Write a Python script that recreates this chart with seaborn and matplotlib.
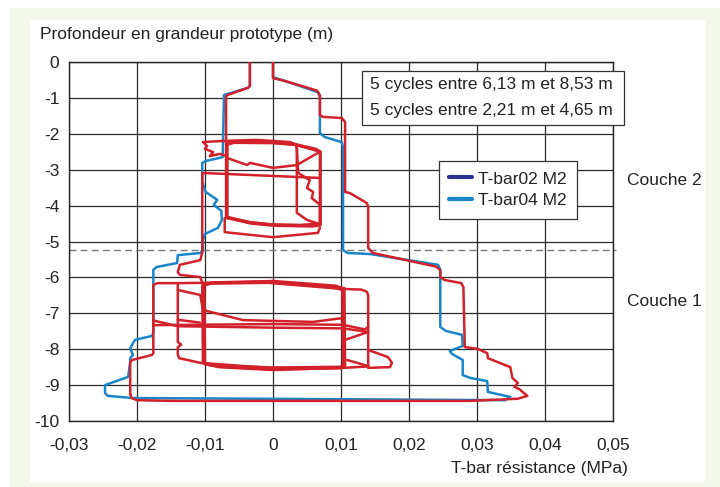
import matplotlib
matplotlib.use("Agg")
import matplotlib.pyplot as plt
from matplotlib.lines import Line2D
from matplotlib.patches import Rectangle
import pandas as pd
import seaborn as sns

sns.set_theme(style="white")
plt.rcParams["font.family"] = ["Liberation Sans", "DejaVu Sans"]

RED = "#d2212b"
BLUE = "#1a86c8"
NAVY = "#2e3192"
INK = "#222222"
FS = 12.5

# ---- axes ----
x_ticks = [-0.03, -0.02, -0.01, 0.0, 0.01, 0.02, 0.03, 0.04, 0.05]
x_tick_labels = ["-0,03", "-0,02", "-0,01", "0", "0,01", "0,02", "0,03", "0,04", "0,05"]
y_ticks = [0, -1, -2, -3, -4, -5, -6, -7, -8, -9, -10]
y_tick_labels = ["0", "-1", "-2", "-3", "-4", "-5", "-6", "-7", "-8", "-9", "-10"]

layer_boundary = -5.24
layer_names = ["Couche 2", "Couche 1"]
layer_label_depths = [-3.29, -6.66]
cycle_notes = ["5 cycles entre 6,13 m et 8,53 m", "5 cycles entre 2,21 m et 4,65 m"]
legend_labels = ["T-bar02 M2", "T-bar04 M2"]

# ---- T-bar04 M2 : penetration then extraction ----
blue_pen_x = [0.0, 0.0, 0.0035, 0.0066, 0.0069, 0.0069, 0.0076, 0.0101, 0.0103, 0.0103,
              0.0110, 0.0143, 0.0243, 0.0246, 0.0246, 0.0254, 0.0278, 0.0279, 0.0260, 0.0263,
              0.0279, 0.0279, 0.0290, 0.0315, 0.0316, 0.0349, 0.0341]
blue_pen_y = [0.0, -0.42, -0.64, -0.84, -0.97, -1.98, -2.09, -2.23, -2.37, -5.24,
              -5.32, -5.35, -5.65, -5.79, -7.38, -7.49, -7.60, -7.91, -8.05, -8.13,
              -8.30, -8.72, -8.80, -8.89, -9.19, -9.33, -9.42]
blue_ext_x = [0.0341, -0.0206, -0.0243, -0.0247, -0.0247, -0.0213, -0.0210, -0.0210, -0.0206,
              -0.0210, -0.0203, -0.0178, -0.0176, -0.0176, -0.0171, -0.0141, -0.0140, -0.0107,
              -0.0103, -0.0103, -0.0100, -0.0081, -0.0075, -0.0076, -0.0087, -0.0082, -0.0099,
              -0.0104, -0.0104, -0.0099, -0.0074, -0.0072, -0.0037, -0.0034, -0.0034]
blue_ext_y = [-9.42, -9.36, -9.30, -9.22, -9.00, -8.77, -8.36, -8.25, -8.16,
              -7.97, -7.74, -7.63, -7.55, -5.79, -5.71, -5.60, -5.38, -5.32,
              -5.24, -4.96, -4.79, -4.62, -4.40, -4.15, -3.98, -3.84, -3.62,
              -3.34, -2.81, -2.76, -2.65, -0.92, -0.72, -0.67, 0.0]

# ---- red trace : penetration down to 9.4 m ----
red_pen_x = [0.0, 0.0, 0.0018, 0.0041, 0.0065, 0.0069, 0.0069, 0.0074, 0.0101, 0.0106,
             0.0106, 0.0113, 0.0138, 0.0140, 0.0140, 0.0147, 0.0240, 0.0246, 0.0246, 0.0252,
             0.0277, 0.0280, 0.0282, 0.0301, 0.0315, 0.0316, 0.0349, 0.0352, 0.0360, 0.0355,
             0.0362, 0.0367, 0.0374, 0.0360, 0.0290, -0.0150, -0.0200, -0.0208, -0.0210]
red_pen_y = [0.0, -0.45, -0.53, -0.66, -0.80, -0.93, -1.48, -1.53, -1.56, -1.67,
             -3.62, -3.65, -3.93, -4.04, -5.18, -5.32, -5.70, -5.80, -5.99, -6.07,
             -6.16, -6.27, -7.94, -7.99, -8.11, -8.25, -8.50, -8.80, -8.94, -9.05,
             -9.11, -9.19, -9.30, -9.38, -9.44, -9.44, -9.42, -9.36, -9.25]

# extraction from the bottom up to the lower cycling zone
red_ext_low_x = [-0.0210, -0.0210, -0.0207, -0.0178, -0.0176, -0.0176, -0.0170, -0.0140]
red_ext_low_y = [-9.25, -8.36, -8.30, -8.16, -8.11, -6.21, -6.16, -6.16]

# cycles between 6,13 m and 8,53 m
low_first_x = [-0.0140, -0.0019, 0.0101, 0.0130, 0.0138, 0.0140, 0.0140, 0.0103, 0.0000,
               -0.0107, -0.0138, -0.0140, -0.0140, -0.0135, -0.0140, -0.0140]
low_first_y = [-6.16, -6.13, -6.32, -6.34, -6.40, -6.50, -8.48, -8.52, -8.53,
               -8.38, -8.25, -8.15, -7.95, -7.87, -7.80, -6.16]
low_cycles_x = [
    [-0.0103, -0.0090, 0.0000, 0.0090, 0.0103, 0.0104, 0.0100, 0.0000, -0.0080, -0.0102, -0.0103],
    [-0.0101, -0.0088, 0.0000, 0.0092, 0.0104, 0.0105, 0.0098, 0.0000, -0.0078, -0.0100, -0.0101],
    [-0.0104, -0.0091, 0.0000, 0.0089, 0.0102, 0.0103, 0.0099, 0.0000, -0.0082, -0.0103, -0.0104],
    [-0.0102, -0.0089, 0.0000, 0.0091, 0.0105, 0.0106, 0.0101, 0.0000, -0.0079, -0.0101, -0.0102],
]
low_cycles_y = [
    [-6.22, -6.15, -6.12, -6.25, -6.33, -8.45, -8.51, -8.53, -8.47, -8.40, -6.22],
    [-6.20, -6.14, -6.10, -6.23, -6.31, -8.47, -8.53, -8.56, -8.49, -8.42, -6.20],
    [-6.24, -6.17, -6.15, -6.28, -6.35, -8.43, -8.49, -8.51, -8.45, -8.38, -6.24],
    [-6.21, -6.16, -6.14, -6.26, -6.30, -8.46, -8.52, -8.58, -8.50, -8.41, -6.21],
]
low_extra_x = [
    [-0.0140, -0.0107, -0.0103, -0.0044, 0.0059, 0.0103],
    [-0.0176, -0.0140, 0.0000, 0.0103, 0.0140, 0.0106],
    [-0.0176, 0.0000, 0.0103, 0.0135, 0.0140],
    [-0.0140, -0.0107],
    [0.0109, 0.0140],
    [0.0140, 0.0169, 0.0175, 0.0172, 0.0140],
]
low_extra_y = [
    [-6.35, -6.49, -6.91, -7.19, -7.24, -7.13],
    [-7.20, -7.36, -7.40, -7.42, -7.52, -7.74],
    [-7.33, -7.30, -7.32, -7.45, -7.38],
    [-7.18, -7.26],
    [-8.30, -8.47],
    [-8.02, -8.22, -8.38, -8.50, -8.52],
]

# extraction between the two cycling zones
red_ext_mid_x = [-0.0103, -0.0107, -0.0137, -0.0140, -0.0137, -0.0107, -0.0104, -0.0104, 0.0069]
red_ext_mid_y = [-6.20, -5.99, -5.93, -5.85, -5.65, -5.52, -5.30, -3.09, -3.23]

# cycles between 2,21 m and 4,65 m
up_cycles_x = [
    [-0.0068, -0.0068, -0.0058, 0.0000, 0.0030, 0.0062, 0.0069, 0.0069, 0.0060, 0.0000, -0.0034, -0.0068],
    [-0.0067, -0.0067, -0.0057, 0.0000, 0.0031, 0.0063, 0.0070, 0.0070, 0.0058, 0.0000, -0.0032, -0.0067],
    [-0.0069, -0.0069, -0.0059, 0.0000, 0.0034, 0.0035, 0.0035, 0.0050, 0.0066, 0.0040, 0.0000, -0.0034, -0.0069],
    [-0.0068, -0.0068, -0.0055, 0.0000, 0.0033, 0.0035, 0.0037, 0.0054, 0.0050, 0.0059, 0.0057, 0.0066,
     0.0069, 0.0069, 0.0055, 0.0000, -0.0033, -0.0068],
]
up_cycles_y = [
    [-4.33, -2.30, -2.23, -2.24, -2.30, -2.44, -2.52, -4.52, -4.56, -4.54, -4.48, -4.33],
    [-4.35, -2.28, -2.21, -2.22, -2.28, -2.42, -2.50, -4.55, -4.58, -4.56, -4.50, -4.35],
    [-4.31, -2.32, -2.25, -2.26, -2.31, -2.40, -4.20, -4.40, -4.50, -4.54, -4.53, -4.46, -4.31],
    [-4.32, -2.29, -2.24, -2.25, -2.30, -2.38, -3.09, -3.29, -3.51, -3.62, -3.79, -3.93,
     -3.98, -4.50, -4.55, -4.53, -4.47, -4.32],
]
up_extra_x = [
    [-0.0103, -0.0074, -0.0024, 0.0025, 0.0035, 0.0069],
    [-0.0103, -0.0097, -0.0100, -0.0088, -0.0093, -0.0078, -0.0068],
    [-0.0068, -0.0038, -0.0034, 0.0000, 0.0035, 0.0069],
    [-0.0071, -0.0071, 0.0000, 0.0066, 0.0069],
]
up_extra_y = [
    [-2.23, -2.20, -2.17, -2.23, -2.31, -2.50],
    [-2.23, -2.34, -2.42, -2.51, -2.62, -2.56, -2.62],
    [-2.67, -2.87, -2.81, -2.95, -2.87, -2.50],
    [-4.35, -4.74, -4.88, -4.76, -4.62],
]

# final extraction to the surface
red_ext_top_x = [-0.0069, -0.0069, -0.0067, -0.0037, -0.0034, -0.0034]
red_ext_top_y = [-2.30, -0.97, -0.92, -0.72, -0.67, 0.0]


def segments_frame(pieces):
    rows = []
    for seg, (xs, ys) in enumerate(pieces):
        for order, (xv, yv) in enumerate(zip(xs, ys)):
            rows.append({"seg": seg, "order": order, "x": xv, "depth": yv})
    return pd.DataFrame(rows)


blue_df = segments_frame([(blue_pen_x, blue_pen_y), (blue_ext_x, blue_ext_y)])
red_pieces = [(red_pen_x, red_pen_y), (red_ext_low_x, red_ext_low_y), (low_first_x, low_first_y)]
red_pieces += list(zip(low_cycles_x, low_cycles_y))
red_pieces += list(zip(low_extra_x, low_extra_y))
red_pieces += [(red_ext_mid_x, red_ext_mid_y)]
red_pieces += list(zip(up_cycles_x, up_cycles_y))
red_pieces += list(zip(up_extra_x, up_extra_y))
red_pieces += [(red_ext_top_x, red_ext_top_y)]
red_df = segments_frame(red_pieces)

# ---- figure ----
W, H = 720, 487
fig = plt.figure(figsize=(W / 100, H / 100), dpi=100)
fig.patch.set_facecolor("white")
fig.patches.append(Rectangle((10 / W, 0), 710 / W, 1 - 8 / H, transform=fig.transFigure,
                             facecolor="#f3f6ea", edgecolor="none", zorder=-3))
fig.patches.append(Rectangle((30 / W, 5 / H), 675 / W, 462 / H, transform=fig.transFigure,
                             facecolor="white", edgecolor="none", zorder=-2))

ax = fig.add_axes([69 / W, 1 - 421 / H, 544 / W, 359 / H])
ax.set_facecolor("white")

sns.lineplot(data=blue_df, x="x", y="depth", units="seg", estimator=None, sort=False,
             color=BLUE, lw=1.8, ax=ax, legend=False, zorder=3)
sns.lineplot(data=red_df, x="x", y="depth", units="seg", estimator=None, sort=False,
             color=RED, lw=1.8, ax=ax, legend=False, zorder=4)

ax.set_xlim(-0.03, 0.05)
ax.set_ylim(-10, 0)
ax.set_xticks(x_ticks)
ax.set_xticklabels(x_tick_labels)
ax.set_yticks(y_ticks)
ax.set_yticklabels(y_tick_labels)
ax.set_xlabel("")
ax.set_ylabel("")
ax.tick_params(axis="both", length=0, labelsize=FS, colors=INK)
ax.tick_params(axis="x", pad=12.5)
ax.tick_params(axis="y", pad=7)
ax.grid(True, color="#2a2a2a", lw=0.9)
ax.set_axisbelow(True)
for sp in ax.spines.values():
    sp.set_color("#222222")
    sp.set_linewidth(1.0)

# layer boundary
ax.plot([-0.03, 0.0504], [layer_boundary, layer_boundary], color="#7a7a7a", lw=1.0,
        dashes=(5, 3), clip_on=False, zorder=2)

# layer names
for name, d in zip(layer_names, layer_label_depths):
    ax.text((627 - 69) / 544, d, name, transform=ax.get_yaxis_transform(),
            fontsize=FS, color=INK, va="center", ha="left")

# axis titles
fig.text(40 / W, 1 - 35 / H, "Profondeur en grandeur prototype (m)", fontsize=FS,
         color=INK, va="center", ha="left")
fig.text(628 / W, 1 - 469 / H, "T-bar résistance (MPa)", fontsize=FS,
         color=INK, va="center", ha="right")

# cycle annotation box
fig.patches.append(Rectangle((362 / W, 1 - 125 / H), 262 / W, 54 / H, transform=fig.transFigure,
                             facecolor="white", edgecolor="#333333", lw=0.9, zorder=5))
for i, note in enumerate(cycle_notes):
    fig.text(370 / W, 1 - (85 + 26 * i) / H, note, fontsize=FS, color=INK,
             va="center", ha="left", zorder=6)

# legend
handles = [Line2D([], [], color=NAVY, lw=3), Line2D([], [], color=BLUE, lw=3)]
leg = ax.legend(handles, legend_labels, loc="upper left",
                bbox_to_anchor=(439 / W, 1 - 161 / H), bbox_transform=fig.transFigure,
                fontsize=FS, frameon=True, fancybox=False, framealpha=1,
                edgecolor="#333333", borderaxespad=0, handlelength=1.3,
                handletextpad=0.35, labelspacing=0.38, borderpad=0.6)
leg.get_frame().set_linewidth(0.9)
for t in leg.get_texts():
    t.set_color(INK)
leg.set_zorder(10)

fig.savefig("out.png", dpi=100, facecolor=fig.get_facecolor())
